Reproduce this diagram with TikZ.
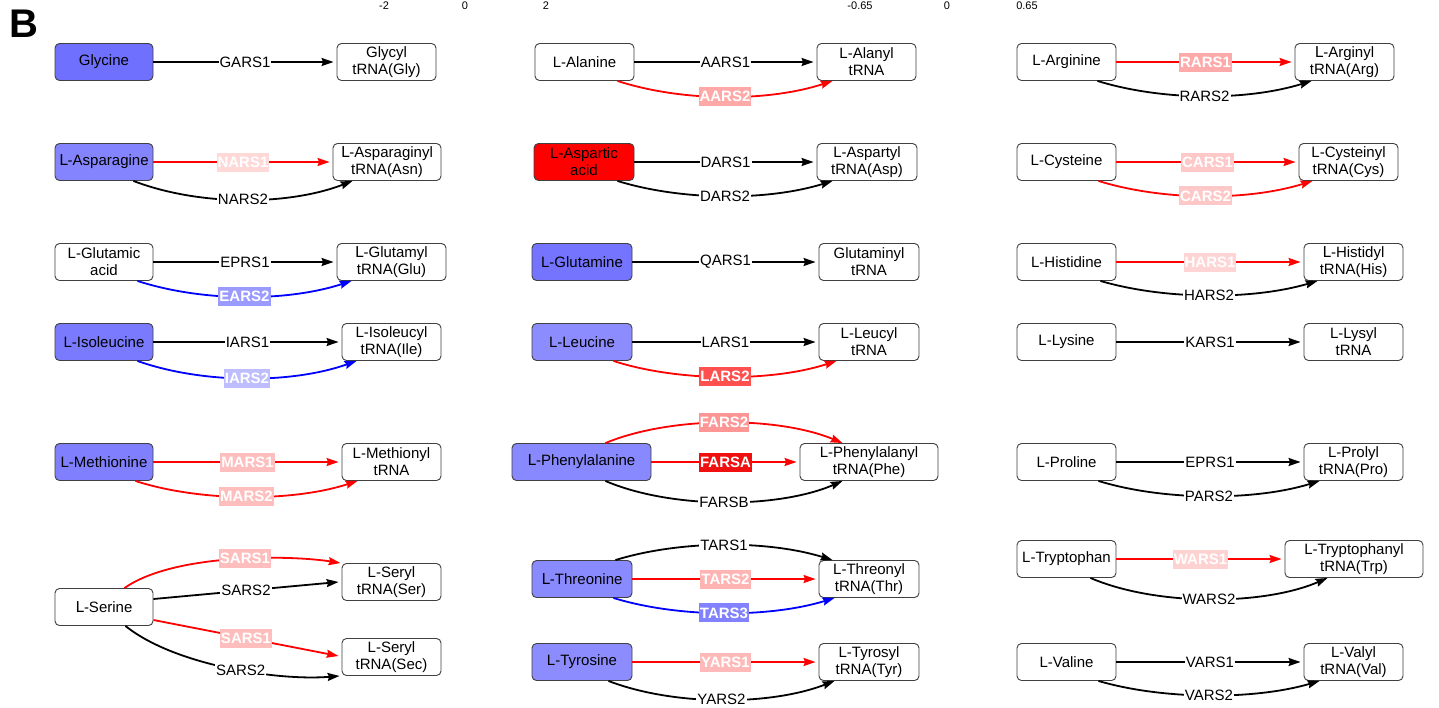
\documentclass[tikz,border=0pt]{standalone}
\usepackage{fontspec}
\setmainfont{Liberation Sans}
\newfontfamily\nfont{DejaVu Sans}
\usetikzlibrary{arrows.meta,calc}
\newcommand\Lr{{\nfont Ⅼ}}
\definecolor{cGly}{HTML}{7070FF}
\definecolor{cAsn}{HTML}{8484FF}
\definecolor{cIle}{HTML}{7A7AFF}
\definecolor{cMet}{HTML}{8080FF}
\definecolor{cGln}{HTML}{7474FF}
\definecolor{cLeu}{HTML}{8C8CFF}
\definecolor{cPhe}{HTML}{8888FF}
\definecolor{cThr}{HTML}{8A8AFF}
\definecolor{cTyr}{HTML}{8C8CFF}
\definecolor{cAsp}{HTML}{FF0000}
\definecolor{lRars1}{HTML}{FFAAAA}
\definecolor{lAars2}{HTML}{FFA8A8}
\definecolor{lNars1}{HTML}{FFD8D8}
\definecolor{lCars}{HTML}{FFC8C8}
\definecolor{lHars1}{HTML}{FFD4D4}
\definecolor{lEars2}{HTML}{9A9AFF}
\definecolor{lIars2}{HTML}{BEBEFF}
\definecolor{lLars2}{HTML}{FF5050}
\definecolor{lMars}{HTML}{FFBEBE}
\definecolor{lFars2}{HTML}{FF9696}
\definecolor{lFarsa}{HTML}{F01010}
\definecolor{lTars2}{HTML}{FFB4B4}
\definecolor{lTars3}{HTML}{8282FF}
\definecolor{lYars1}{HTML}{FFB9B9}
\definecolor{lSars1}{HTML}{FFBEBE}
\definecolor{lWars1}{HTML}{FFD2D2}
\definecolor{edgeRed}{HTML}{FF0000}
\definecolor{edgeBlue}{HTML}{0000FF}
\definecolor{boxLine}{HTML}{404040}
\tikzset{
  box/.style={draw=boxLine, rounded corners=4.5pt, minimum height=37pt, minimum width=99pt,
    align=center, inner sep=1pt, line width=0.9pt, fill=white,
    font=\fontsize{15}{17}\selectfont},
  conn/.style={line width=1.8pt, -{Stealth[length=12pt,width=8pt,inset=1.5pt]}},
  stline/.style={conn, shorten >=3pt},
  blbl/.style={fill=white, inner xsep=1pt, inner ysep=1pt, text=black,
    font=\fontsize{15}{17}\selectfont},
  clbl/.style={fill=#1, text=white, inner xsep=1pt, inner ysep=0pt, minimum height=19pt,
    font=\fontsize{15}{17}\selectfont\bfseries},
  numlbl/.style={font=\fontsize{11}{13}\selectfont, anchor=base, inner sep=0pt}
}
\newcommand\straight[5]{\draw[stline,#3] (#1.east) -- node[#4]{#5} (#2.west);}
\newcommand\lowarc[8]{\draw[conn,#6] ($(#1.south east)+(-#2,0)$) .. controls +(65,#5) and +(-65,#5) .. ($(#3.south west)+(#4,0)$) node[pos=.5,#7]{#8};}
\newcommand\uparc[8]{\draw[conn,#6] ($(#1.north east)+(-#2,0)$) .. controls +(65,#5) and +(-65,#5) .. ($(#3.north west)+(#4,0)$) node[pos=.5,#7]{#8};}
\begin{document}
\begin{tikzpicture}[x=1pt,y=-1pt]
\path[use as bounding box] (0,0) rectangle (1439,707);
\clip (0,0) rectangle (1439,707);
\fill[white] (0,0) rectangle (1439,707);
% header
\node[font=\fontsize{40}{40}\selectfont\bfseries, inner sep=0pt] (B) at (24,24) {B};
\node[numlbl] (n1) at (384,9.5) {-2};
\node[numlbl] (n2) at (465,9.5) {0};
\node[numlbl] (n3) at (546,9.5) {2};
\node[numlbl] (n4) at (860,9.5) {-0.65};
\node[numlbl] (n5) at (947,9.5) {0};
\node[numlbl] (n6) at (1027,9.5) {0.65};
% ===== column 1 =====
\node[box,fill=cGly,minimum width=98pt] (gly) at (104,62) {Glycine};
\node[box] (glyT) at (386.5,62) {Glycyl\\tRNA(Gly)};
\straight{gly}{glyT}{black}{blbl}{GARS1}

\node[box,fill=cAsn,minimum width=98pt] (asn) at (104,162) {\Lr-Asparagine};
\node[box,minimum width=108pt] (asnT) at (387,162) {\Lr-Asparaginyl\\tRNA(Asn)};
\straight{asn}{asnT}{edgeRed}{clbl=lNars1}{NARS1}
\lowarc{asn}{20}{asnT}{20}{25}{black}{blbl}{NARS2}

\node[box,minimum width=98pt] (glu) at (104,262) {L-Glutamic\\acid};
\node[box,minimum width=109pt] (gluT) at (391.5,262) {\Lr-Glutamyl\\tRNA(Glu)};
\straight{glu}{gluT}{black}{blbl}{EPRS1}
\lowarc{glu}{16}{gluT}{15}{21}{edgeBlue}{clbl=lEars2}{EARS2}

\node[box,fill=cIle,minimum width=98pt] (ile) at (104,342) {L-Isoleucine};
\node[box] (ileT) at (391.5,342) {L-Isoleucyl\\tRNA(Ile)};
\straight{ile}{ileT}{black}{blbl}{IARS1}
\lowarc{ile}{16}{ileT}{15}{23}{edgeBlue}{clbl=lIars2}{IARS2}

\node[box,fill=cMet,minimum width=98pt] (met) at (104,462) {L-Methionine};
\node[box] (metT) at (391.5,462) {L-Methionyl\\tRNA};
\straight{met}{metT}{edgeRed}{clbl=lMars}{MARS1}
\lowarc{met}{18}{metT}{16}{21}{edgeRed}{clbl=lMars}{MARS2}

\node[box,minimum width=98pt] (ser) at (104,607) {\Lr-Serine};
\node[box] (serT) at (391.5,582) {L-Seryl\\tRNA(Ser)};
\node[box] (secT) at (391.5,657) {L-Seryl\\tRNA(Sec)};
\draw[conn,edgeRed] ($(ser.north east)+(-29,0)$) .. controls +(50,-35) and +(-50,-8) .. ($(serT.north west)+(-1,0)$) node[pos=.55,clbl=lSars1]{SARS1};
\draw[conn,black] ($(ser.east)+(0,-8)$) -- node[blbl]{SARS2} ($(serT.west)+(-3,0)$);
\draw[conn,edgeRed] ($(ser.east)+(0,13)$) -- node[clbl=lSars1]{SARS1} ($(secT.west)+(-3,-1)$);
\draw[conn,black] ($(ser.south east)+(-28,0)$) .. controls +(50,40) and +(-60,5) .. ($(secT.south west)+(-2,0)$) node[pos=.55,blbl]{SARS2};
% ===== column 2 =====
\node[box] (ala) at (584.5,62) {L-Alanine};
\node[box] (alaT) at (866.5,62) {L-Alanyl\\tRNA};
\straight{ala}{alaT}{black}{blbl}{AARS1}
\lowarc{ala}{17}{alaT}{16}{21}{edgeRed}{clbl=lAars2}{AARS2}

\node[box,fill=cAsp,minimum width=100pt] (asp) at (584,162) {L-Aspartic\\acid};
\node[box,minimum width=100pt] (aspT) at (867,162) {L-Aspartyl\\tRNA(Asp)};
\straight{asp}{aspT}{black}{blbl}{DARS1}
\lowarc{asp}{17}{aspT}{16}{20}{black}{blbl}{DARS2}

\node[box,fill=cGln,minimum width=100pt] (gln) at (582,262) {L-Glutamine};
\node[box,minimum width=100pt] (glnT) at (869,262) {Glutaminyl\\tRNA};
\straight{gln}{glnT}{black}{blbl}{QARS1}

\node[box,fill=cLeu,minimum width=100pt] (leu) at (582,342) {L-Leucine};
\node[box,minimum width=100pt] (leuT) at (869,342) {L-Leucyl\\tRNA};
\straight{leu}{leuT}{black}{blbl}{LARS1}
\lowarc{leu}{19}{leuT}{18}{21}{edgeRed}{clbl=lLars2}{LARS2}

\node[box,fill=cPhe,minimum width=139pt] (phe) at (581.5,462) {\Lr-Phenylalanine};
\node[box,minimum width=138pt] (pheT) at (869,462) {L-Phenylalanyl\\tRNA(Phe)};
\straight{phe}{pheT}{edgeRed}{clbl=lFarsa}{FARSA}
\uparc{phe}{46}{pheT}{43}{-27}{edgeRed}{clbl=lFars2}{FARS2}
\lowarc{phe}{46}{pheT}{43}{28}{black}{blbl}{FARSB}

\node[box,fill=cThr,minimum width=100pt] (thr) at (582,579) {\Lr-Threonine};
\node[box,minimum width=100pt] (thrT) at (869,579) {L-Threonyl\\tRNA(Thr)};
\straight{thr}{thrT}{edgeRed}{clbl=lTars2}{TARS2}
\uparc{thr}{17}{thrT}{14}{-20}{black}{blbl}{TARS1}
\lowarc{thr}{19}{thrT}{16}{20}{edgeBlue}{clbl=lTars3}{TARS3}

\node[box,fill=cTyr,minimum width=100pt] (tyr) at (582,662) {L-Tyrosine};
\node[box,minimum width=100pt] (tyrT) at (869,662) {L-Tyrosyl\\tRNA(Tyr)};
\straight{tyr}{tyrT}{edgeRed}{clbl=lYars1}{YARS1}
\lowarc{tyr}{24}{tyrT}{16}{25}{black}{blbl}{YARS2}
% ===== column 3 =====
\node[box] (arg) at (1066.5,62) {L-Arginine};
\node[box] (argT) at (1344.5,62) {\Lr-Arginyl\\tRNA(Arg)};
\straight{arg}{argT}{edgeRed}{clbl=lRars1}{RARS1}
\lowarc{arg}{19}{argT}{17}{20}{black}{blbl}{RARS2}

\node[box] (cys) at (1066.5,162) {L-Cysteine};
\node[box] (cysT) at (1348.5,162) {L-Cysteinyl\\tRNA(Cys)};
\straight{cys}{cysT}{edgeRed}{clbl=lCars}{CARS1}
\lowarc{cys}{18}{cysT}{14}{20}{edgeRed}{clbl=lCars}{CARS2}

\node[box] (his) at (1066.5,262) {L-Histidine};
\node[box] (hisT) at (1353.5,262) {\Lr-Histidyl\\tRNA(His)};
\straight{his}{hisT}{edgeRed}{clbl=lHars1}{HARS1}
\lowarc{his}{16}{hisT}{14}{19}{black}{blbl}{HARS2}

\node[box] (lys) at (1066.5,342) {L-Lysine};
\node[box] (lysT) at (1353.5,342) {L-Lysyl\\tRNA};
\straight{lys}{lysT}{black}{blbl}{KARS1}

\node[box] (pro) at (1066.5,462) {L-Proline};
\node[box] (proT) at (1353.5,462) {L-Prolyl\\tRNA(Pro)};
\straight{pro}{proT}{black}{blbl}{EPRS1}
\lowarc{pro}{18}{proT}{16}{20}{black}{blbl}{PARS2}

\node[box] (trp) at (1066.5,559) {L-Tryptophan};
\node[box,minimum width=138pt] (trpT) at (1354,559) {L-Tryptophanyl\\tRNA(Trp)};
\straight{trp}{trpT}{edgeRed}{clbl=lWars1}{WARS1}
\lowarc{trp}{26}{trpT}{43}{28}{black}{blbl}{WARS2}

\node[box] (val) at (1066.5,662) {L-Valine};
\node[box] (valT) at (1353.5,662) {L-Valyl\\tRNA(Val)};
\straight{val}{valT}{black}{blbl}{VARS1}
\lowarc{val}{18}{valT}{16}{19}{black}{blbl}{VARS2}
\end{tikzpicture}
\end{document}
